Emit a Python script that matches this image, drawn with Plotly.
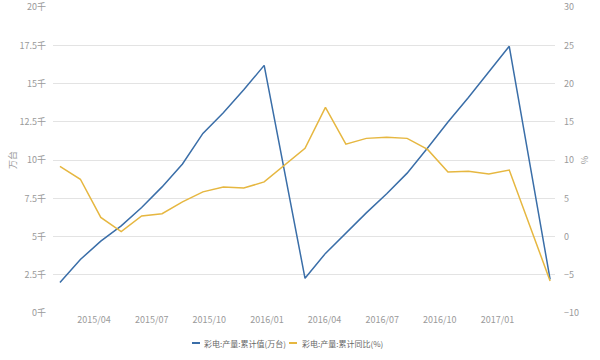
import plotly.graph_objects as go

months = ["2015-02", "2015-03", "2015-04", "2015-05", "2015-06", "2015-07", "2015-08",
          "2015-09", "2015-10", "2015-11", "2015-12",
          "2016-02", "2016-03", "2016-04", "2016-05", "2016-06", "2016-07", "2016-08",
          "2016-09", "2016-10", "2016-11", "2016-12",
          "2017-02"]
cum_value = [2.0, 3.5, 4.7, 5.7, 6.9, 8.25, 9.75, 11.75, 13.1, 14.6, 16.2,
             2.27, 3.9, 5.25, 6.55, 7.8, 9.15, 10.8, 12.5, 14.1, 15.8, 17.45,
             2.2]
cum_yoy = [9.2, 7.5, 2.5, 0.65, 2.7, 3.0, 4.55, 5.85, 6.5, 6.35, 7.15,
           11.55, 16.9, 12.1, 12.85, 13.0, 12.85, 11.4, 8.45, 8.55, 8.2, 8.7,
           -5.8]
series_names = ["彩电:产量:累计值(万台)", "彩电:产量:累计同比(%)"]
x_tick_labels = ["2015/04", "2015/07", "2015/10", "2016/01", "2016/04", "2016/07", "2016/10", "2017/01"]
left_ticks = [0, 2.5, 5, 7.5, 10, 12.5, 15, 17.5, 20]
right_ticks = [-10, -5, 0, 5, 10, 15, 20, 25, 30]

# month index relative to 2015-02
x_idx = [(int(m[:4]) - 2015) * 12 + int(m[5:]) - 2 for m in months]
x_tick_pos = [1.67 + 2.822 * i for i in range(len(x_tick_labels))]

BLUE = "#3a6ea8"
YELLOW = "#e6b740"
FONT = "Noto Sans CJK SC, sans-serif"
GRAY = "#9a9a9a"
colors = [BLUE, YELLOW]

W, H = 600, 360
L, R, T, B = 53, 45, 7, 47
pw, ph = W - L - R, H - T - B

fig = go.Figure()
fig.add_trace(go.Scatter(x=x_idx, y=cum_value, mode="lines", name=series_names[0],
                         line=dict(color=BLUE, width=1.5), yaxis="y"))
fig.add_trace(go.Scatter(x=x_idx, y=cum_yoy, mode="lines", name=series_names[1],
                         line=dict(color=YELLOW, width=1.5), yaxis="y2"))

# manual compact legend (pixel positions converted to paper coords)
def px(x):
    return (x - L) / pw

def py(y):
    return (H - B - y) / ph

legend_items = [(192, 202), (289, 300)]  # dash start, text start (px)
shapes, annots = [], []
for (dx, tx), name, col in zip(legend_items, series_names, colors):
    shapes.append(dict(type="line", xref="paper", yref="paper", x0=px(dx), x1=px(dx + 8),
                       y0=py(343), y1=py(343), line=dict(color=col, width=2)))
    annots.append(dict(text=name, xref="paper", yref="paper", x=px(tx), y=py(343),
                       xanchor="left", yanchor="middle", showarrow=False,
                       font=dict(size=8, color="#666666")))
annots.append(dict(text="万台", xref="paper", yref="paper", x=px(12), y=py(160), showarrow=False,
                   textangle=-90, font=dict(size=9, color=GRAY), xanchor="center", yanchor="middle"))
annots.append(dict(text="%", xref="paper", yref="paper", x=px(585), y=py(160), showarrow=False,
                   textangle=90, font=dict(size=9, color=GRAY), xanchor="center", yanchor="middle"))

fig.update_layout(
    width=W, height=H,
    margin=dict(l=L, r=R, t=T, b=B, autoexpand=False),
    plot_bgcolor="white", paper_bgcolor="white",
    font=dict(family=FONT, size=9, color=GRAY),
    showlegend=False,
    xaxis=dict(range=[-0.34, 24.24], tickvals=x_tick_pos, ticktext=x_tick_labels,
               showgrid=False, zeroline=False, showline=False, ticks="", automargin=False,
               tickfont=dict(size=9, color=GRAY)),
    yaxis=dict(range=[0, 20.02], tickvals=left_ticks, ticktext=[f"{t:g}千" for t in left_ticks],
               showgrid=True, gridcolor="#e3e3e3", gridwidth=1, zeroline=False,
               showline=False, ticks="", ticklabelstandoff=6, automargin=False,
               ticklabeloverflow="allow", tickfont=dict(size=9, color=GRAY)),
    yaxis2=dict(range=[-10, 30.04], tickvals=right_ticks, overlaying="y", side="right",
                showgrid=False, zeroline=False, showline=False, ticks="", ticklabelstandoff=8,
                automargin=False, ticklabeloverflow="allow", tickfont=dict(size=9, color=GRAY)),
    shapes=shapes,
    annotations=annots,
)

fig.write_html("out.html", config={"displayModeBar": False},
               post_script="document.body.style.margin='0';")
